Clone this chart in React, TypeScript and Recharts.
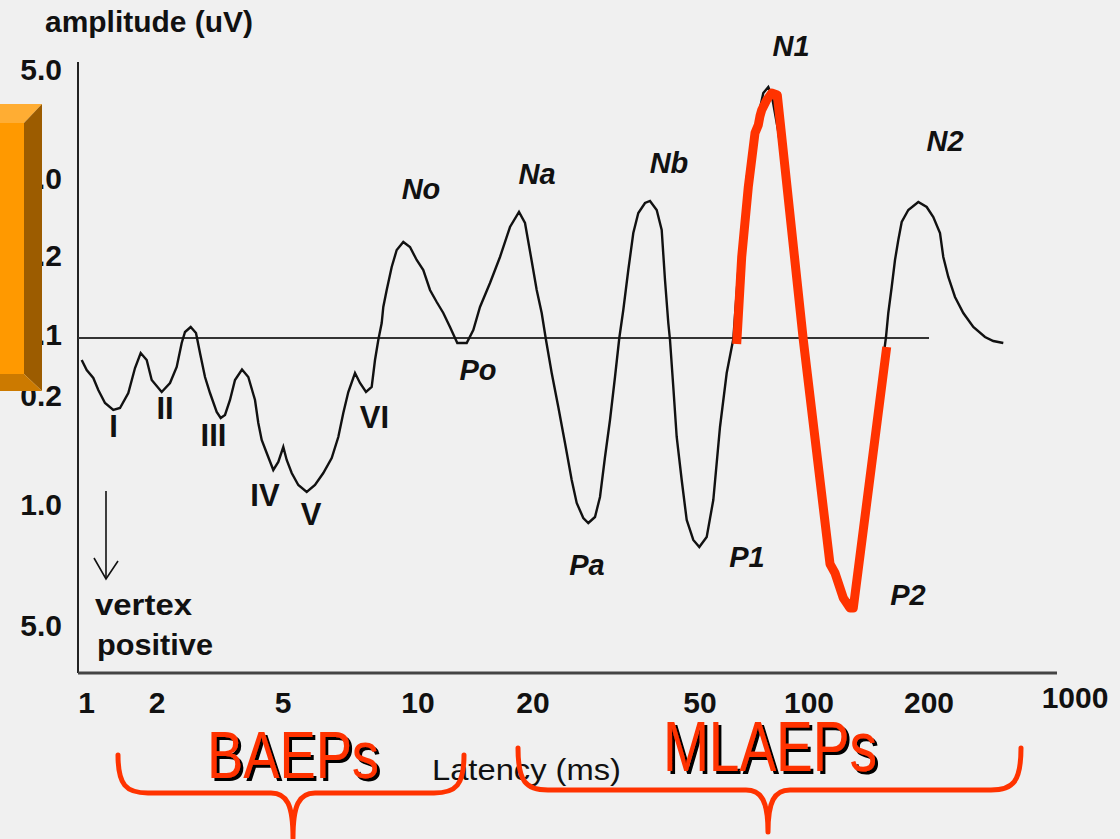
import React from 'react';
import { ComposedChart, Line, Scatter, XAxis, YAxis, ReferenceLine } from 'recharts';

// Evoked potential trace. x = position along the latency axis, y = amplitude (baseline 0)
const traceX = [
  0.37, 0.87, 1.53, 2.03, 2.7, 3.53, 4.2, 5.03, 5.7, 6.27, 6.87, 7.37, 8.37, 9.2, 9.87, 10.37, 10.7, 11.27, 11.8, 12.2,
  12.7, 13.2, 13.87, 14.27, 14.7, 15.2, 15.7, 16.4, 17.03, 17.7, 18.03, 18.37, 18.87, 19.53, 20.03, 20.53, 20.87, 21.37,
  22.03, 22.87, 23.7, 24.53, 25.37, 26.03, 26.53, 27.03, 27.7, 28.2, 28.8, 29.37, 29.7, 30.03, 30.37, 30.53, 30.87, 31.37,
  31.87, 32.53, 33.2, 33.87, 34.53, 35.2, 35.87, 36.53, 37.2, 37.93, 38.87, 39.53, 40.2, 41.2, 42.2, 43.2, 44.1, 44.7,
  45.3, 45.87, 46.37, 46.8, 47.37, 48.03, 48.7, 49.37, 49.87, 50.53, 51.03, 51.7, 52.2, 52.7, 53.2, 53.7, 54.13, 54.53,
  55.03, 55.53, 56.03, 56.7, 57.2, 57.87, 58.37, 58.7, 59.03, 59.2, 59.53, 59.87, 60.37, 60.87, 61.53, 62.13, 62.87,
  63.53, 64.2, 64.87, 65.53, 66.03, 66.37, 66.87, 67.53, 68.03, 68.53, 69.03, 69.37, 70.0, 71.2, 72.5, 73.8, 75.4, 76.2,
  77.0, 77.6, 79.2, 80.8, 81.03, 81.37, 81.7, 82.03, 82.37, 83.03, 84.03, 84.87, 85.53, 86.2, 86.53, 87.03, 87.7, 88.53,
  89.53, 90.7, 91.53, 92.53,
];
const traceY = [
  -0.22, -0.32, -0.4, -0.52, -0.65, -0.72, -0.7, -0.55, -0.3, -0.15, -0.22, -0.42, -0.54, -0.45, -0.29, -0.05, 0.06, 0.11,
  0.05, -0.15, -0.39, -0.55, -0.74, -0.8, -0.77, -0.62, -0.42, -0.315, -0.39, -0.62, -0.85, -1.02, -1.15, -1.32, -1.24,
  -1.09, -1.22, -1.35, -1.47, -1.54, -1.47, -1.35, -1.2, -0.99, -0.75, -0.54, -0.35, -0.45, -0.54, -0.49, -0.22, -0.02,
  0.15, 0.31, 0.48, 0.71, 0.88, 0.96, 0.91, 0.78, 0.68, 0.48, 0.36, 0.25, 0.11, -0.05, -0.05, 0.08, 0.31, 0.55, 0.81,
  1.11, 1.26, 1.15, 0.81, 0.48, 0.25, -0.02, -0.35, -0.69, -1.05, -1.42, -1.65, -1.8, -1.85, -1.79, -1.59, -1.19, -0.82,
  -0.39, 0.0, 0.28, 0.68, 1.05, 1.25, 1.35, 1.37, 1.28, 1.08, 0.58, 0.15, -0.02, -0.49, -0.99, -1.42, -1.82, -2.02,
  -2.09, -1.99, -1.62, -0.89, -0.35, -0.01, 0.68, 1.06, 1.6, 2.01, 2.22, 2.45, 2.51, 2.43, 2.08, 1.23, -0.01, -1.18,
  -2.34, -2.56, -2.65, -2.58, -1.22, 0.01, 0.25, 0.51, 0.78, 0.98, 1.16, 1.28, 1.36, 1.31, 1.21, 1.05, 0.81, 0.61, 0.41,
  0.25, 0.11, 0.01, -0.03, -0.05,
];

// hand-drawn highlight over the N1 / P2 complex
const highlightX = [65.87, 66.37, 67.03, 67.7, 68.03, 68.2, 68.37, 68.87, 69.37, 69.93, 72.53, 75.2, 75.7, 76.53, 77.2, 77.53, 80.87];
const highlightY = [-0.06, 0.81, 1.51, 2.05, 2.13, 2.22, 2.28, 2.38, 2.45, 2.43, -0.02, -2.26, -2.35, -2.6, -2.7, -2.7, -0.09];

// zero line
const baselineX = [0, 85.1];
const baselineY = [0, 0];

const xTickPos = [0.87, 7.9, 20.5, 34.0, 45.5, 62.2, 73.1, 85.1, 99.7];
const xTickLabels = ['1', '2', '5', '10', '20', '50', '100', '200', '1000'];
const yTickPos = [2.69, 1.6, 0.83, 0.04, -0.57, -1.66, -2.87];
const yTickLabels = ['5.0', '1.0', '0.2', '0.1', '0.2', '1.0', '5.0'];

// wave component names
const peakNames = ['I', 'II', 'III', 'IV', 'V', 'VI', 'No', 'Na', 'Nb', 'Po', 'Pa', 'P1', 'N1', 'N2', 'P2'];
const peakX = [3.55, 8.7, 13.55, 18.7, 23.3, 29.65, 34.3, 45.9, 59.1, 40.0, 50.9, 66.9, 71.3, 86.7, 83.0];
const peakY = [-0.88, -0.7, -0.97, -1.57, -1.76, -0.79, 1.49, 1.64, 1.75, -0.32, -2.27, -2.19, 2.92, 1.97, -2.57];

const zip = (xs: number[], ys: number[]) => xs.map((x, i) => ({ x, y: ys[i] }));
const trace = zip(traceX, traceY);
const highlight = zip(highlightX, highlightY);
const baseline = zip(baselineX, baselineY);
const peaks = peakNames.map((name, i) => ({ name, x: peakX[i], y: peakY[i] }));

const X_MAX = 103.2;
const Y_MIN = -3.35;
const Y_MAX = 3.2;

const FONT = '"Liberation Sans", Arial, sans-serif';
const RED = '#ff3300';

const XTick = (props: any) => {
  const { x, y, payload } = props;
  const label = xTickLabels[xTickPos.indexOf(payload.value)];
  const raised = label === '1000';
  return (
    <text x={x} y={y + (raised ? 35 : 40)} textAnchor="middle" fontFamily={FONT} fontWeight="bold" fontSize={30} fill="#111">
      {label}
    </text>
  );
};

const YTick = (props: any) => {
  const { x, y, payload } = props;
  const label = yTickLabels[yTickPos.indexOf(payload.value)];
  return (
    <text x={x} y={y + 11} textAnchor="end" fontFamily={FONT} fontWeight="bold" fontSize={30} fill="#111">
      {label}
    </text>
  );
};

const PeakLabel = (props: any) => {
  const { cx, cy, payload } = props;
  const roman = !/^[NP]/.test(payload.name);
  const size = roman ? 31 : 29;
  return (
    <text
      x={cx}
      y={cy + size * 0.36}
      textAnchor="middle"
      fontFamily={FONT}
      fontWeight="bold"
      fontStyle={roman ? 'normal' : 'italic'}
      fontSize={size}
      fill="#111"
    >
      {payload.name}
    </text>
  );
};

function Brace({ x1, x2, tip, top, bar, bottom }: { x1: number; x2: number; tip: number; top: number; bar: number; bottom: number }) {
  const d = [
    `M${x1},${top}`,
    `C${x1},${bar - 8} ${x1 + 8},${bar} ${x1 + 30},${bar}`,
    `L${tip - 22},${bar}`,
    `C${tip - 6},${bar} ${tip},${bar + 12} ${tip},${bottom}`,
    `C${tip},${bar + 12} ${tip + 6},${bar} ${tip + 22},${bar}`,
    `L${x2 - 30},${bar}`,
    `C${x2 - 8},${bar} ${x2},${bar - 8} ${x2},${top}`,
  ].join(' ');
  return <path d={d} fill="none" stroke={RED} strokeWidth={5} strokeLinecap="round" strokeLinejoin="round" />;
}

// red caption with a hard black drop shadow
function ShadowText({ x, y, text, size, width }: { x: number; y: number; text: string; size: number; width: number }) {
  return (
    <text
      x={x}
      y={y}
      fill={RED}
      fontFamily={FONT}
      fontSize={size}
      textLength={width}
      lengthAdjust="spacingAndGlyphs"
      filter="url(#hardShadow)"
    >
      {text}
    </text>
  );
}

export default function App() {
  return (
    <div style={{ position: 'absolute', left: 0, top: 0, width: 1120, height: 839, background: '#f0f0f0', overflow: 'hidden' }}>
      <ComposedChart width={1120} height={839} margin={{ top: 18, right: 10, bottom: 0, left: 0 }}>
        <XAxis
          type="number"
          dataKey="x"
          domain={[0, X_MAX]}
          allowDataOverflow
          ticks={xTickPos}
          interval={0}
          axisLine={false}
          tickLine={false}
          tickSize={0}
          tickMargin={0}
          height={166}
          tick={<XTick />}
        />
        <YAxis
          type="number"
          dataKey="y"
          domain={[Y_MIN, Y_MAX]}
          allowDataOverflow
          ticks={yTickPos}
          interval={0}
          axisLine={false}
          tickLine={false}
          tickSize={0}
          tickMargin={16}
          width={78}
          tick={<YTick />}
        />
        <ReferenceLine segment={[{ x: 0, y: Y_MIN }, { x: 0, y: 2.76 }]} stroke="#222" strokeWidth={2} />
        <ReferenceLine segment={[{ x: 0, y: Y_MIN }, { x: 97.9, y: Y_MIN }]} stroke="#444" strokeWidth={3} />
        <Line data={baseline} dataKey="y" type="linear" stroke="#333" strokeWidth={2} dot={false} activeDot={false} isAnimationActive={false} />
        <Line data={trace} dataKey="y" type="linear" stroke="#111" strokeWidth={2.4} dot={false} activeDot={false} isAnimationActive={false} />
        <Line
          data={highlight}
          dataKey="y"
          type="linear"
          stroke={RED}
          strokeWidth={9}
          strokeLinejoin="round"
          dot={false}
          activeDot={false}
          isAnimationActive={false}
        />
        <Scatter data={peaks} dataKey="y" shape={<PeakLabel />} isAnimationActive={false} />
      </ComposedChart>

      <svg width={1120} height={839} style={{ position: 'absolute', left: 0, top: 0, pointerEvents: 'none' }}>
        <defs>
          <filter id="hardShadow" x="-5%" y="-5%" width="115%" height="125%">
            <feFlood floodColor="#000" result="ink" />
            <feComposite in="ink" in2="SourceAlpha" operator="in" result="mask" />
            <feOffset in="mask" dx={3} dy={3} result="shadow" />
            <feMerge>
              <feMergeNode in="shadow" />
              <feMergeNode in="SourceGraphic" />
            </feMerge>
          </filter>
        </defs>

        <text x={45} y={32} fontFamily={FONT} fontWeight="bold" fontSize={30} fill="#111" textLength={208} lengthAdjust="spacingAndGlyphs">
          amplitude (uV)
        </text>

        {/* vertex-positive arrow */}
        <g stroke="#111" strokeWidth={1.6} fill="none">
          <line x1={106} y1={491} x2={106} y2={579} />
          <polyline points="94,558 106,579 118,561" />
        </g>
        <text x={95} y={615} fontFamily={FONT} fontWeight="bold" fontSize={30} fill="#111" textLength={97} lengthAdjust="spacingAndGlyphs">
          vertex
        </text>
        <text x={97} y={655} fontFamily={FONT} fontWeight="bold" fontSize={30} fill="#111" textLength={116} lengthAdjust="spacingAndGlyphs">
          positive
        </text>

        <text x={432} y={780} fontFamily={FONT} fontSize={30} fill="#111" textLength={189} lengthAdjust="spacingAndGlyphs">
          Latency (ms)
        </text>

        {/* bevelled tab on the left edge */}
        <polygon points="0,104 42,104 24,123 0,123" fill="#ffad33" />
        <polygon points="42,104 42,391 24,374 24,123" fill="#9c5c00" />
        <polygon points="0,374 24,374 42,391 0,391" fill="#cc7a00" />
        <rect x={0} y={123} width={24} height={251} fill="#ff9900" />

        <Brace x1={118} x2={464} tip={293} top={755} bar={793} bottom={838} />
        <Brace x1={518} x2={1021} tip={768} top={748} bar={790} bottom={832} />
        <ShadowText x={207} y={778} text="BAEPs" size={67} width={172} />
        <ShadowText x={663} y={771} text="MLAEPs" size={70} width={214} />
      </svg>
    </div>
  );
}
